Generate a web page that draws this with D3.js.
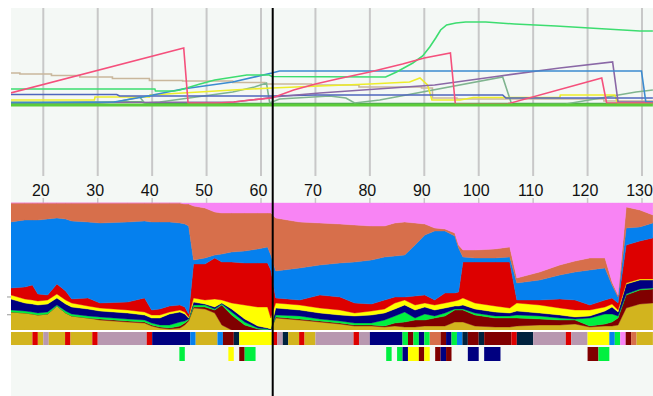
<!DOCTYPE html>
<html>
<head>
<meta charset="utf-8">
<script src="https://cdn.jsdelivr.net/npm/d3@7"></script>
<style>
  body { margin: 0; background: #fff; }
  svg { display: block; }
</style>
</head>
<body>
<svg id="chart" width="653" height="396"></svg>
<script>
// x positions of the grid / tick labels
const xTicks = [20, 30, 40, 50, 60, 70, 80, 90, 100, 110, 120, 130]
const cursorAt = 62.15
const leftTicks = [0.26, 0.12]

// top panel: one array of [x, value] per line
const tanLine = [[14,32],[15.7,31],[21.5,29.5],[26.7,28],[32.7,26.5],[39.5,24.5],[45.6,24],[54.8,22.5],[60.7,21],[69.3,20],[78,18],[89.5,17],[91.5,7],[96,6],[123,4],[132,4]]
const sageLine = [[14,3],[33.5,3],[37.7,8],[38.6,2],[41.4,3],[54.8,13],[58.8,18],[61,22],[61.6,2],[63.4,6],[72.6,9],[75.6,7],[77.2,2],[81.8,5],[104.4,28],[106.1,0],[116,1],[128.9,13],[132,15]]
const darkGreenLine = [[14,2],[30,2],[33,3],[38,3],[39,1.5],[132,1.5]]
const yellowLine = [[14,5],[29.4,5],[29.5,8],[39.5,8],[39.6,10],[45.6,12],[54.8,15],[62,17],[70.8,19],[80,21],[87.3,23],[89.2,27],[90.6,20],[91.4,5],[96.6,5],[99,7.5],[114.9,7.5],[115,10],[125,10],[125.5,2],[132,2]]
const slateLine = [[14,10.5],[33.5,10.5],[34,9],[62,9],[70,10],[104.4,10],[105,7],[132,7]]
const purpleLine = [[14,2],[55,3],[60,6],[62.2,8],[70.8,12],[91.9,20],[103.9,29],[114.9,37],[124.6,43],[125.6,3],[132,3]]
const steelLine = [[14,2],[33,3],[38.3,8],[45.6,16],[54.8,23],[62,32],[63.4,34],[129.9,34],[130.7,3],[132,3]]
const greenLine = [[14,16],[40.5,16],[40.6,14],[44,14],[45.1,15],[48.8,21],[51.5,25],[57.4,30],[61.5,30],[62,28.5],[71,28.3],[82.9,28],[84.9,33],[87.9,42],[89.7,49],[91,58],[92.1,67],[93,75],[94.1,80],[95.8,82],[97.6,83],[101.3,83],[106.6,81],[114.2,79],[123.4,76],[129.6,74],[132,74]]
const pinkLine = [[14,12],[45.8,57],[46.6,2],[52,2],[55,3],[58,5],[62,7],[66,15],[70,21],[74,26],[80,33],[86,41],[90,47],[94.8,52],[95.7,1],[105.2,1],[122.6,27],[123.5,2],[132,2]]
const baseLine = [[14,0],[132,0]]

// lower panel: stacked shares, bottom layer first
const layerKeys = ["olive", "maroon", "green", "navy", "yellow", "red", "blue", "terra", "pink"]
const stackX = [14,16.6,18,19,20.8,22.5,24.1,25.2,28.2,30.4,35.5,38.6,39.9,41.4,43.2,45.1,46,46.7,47.6,49.7,51.5,52.8,54.6,57,59.4,61.2,61.8,62.7,67.1,70.8,74.5,77.2,80.3,82.7,84.6,86.4,88.3,90.1,91.9,93.8,95.6,96.3,97.1,99.3,103,105.7,107,111.2,114.9,117.7,120.4,123.2,124.5,125.6,127.1,129.6,132]
const stackRows = [
  [18,0,2,11,4,7,66,19,0],
  [17,0,2,8,4,12,67,17,0],
  [16,0,2,8,4,15,65,17,0],
  [15,0,2,8,4,7,74,17,0],
  [16,0,2,8,4,5,76,16,0],
  [24,0,1,7,4,10,66,15,0],
  [17,0,2,7,4,9,72,16,0],
  [14,0,2,7,4,4,78,18,0],
  [12,0,2,7,3,8,76,19,0],
  [10,1,2,6,3,5,80,20,0],
  [8,1,2,6,3,8,80,19,0],
  [7,1,2,5,3,14,77,18,0],
  [4,1,2,5,3,5,88,19,0],
  [2,1,2,7,3,6,87,19,0],
  [1,1,3,11,2,6,84,19,0],
  [2,2,4,10,2,5,82,20,0],
  [5,2,2,7,2,5,83,20,1],
  [9,1,1,1,1,3,88,22,1],
  [22,1,2,3,4,34,4,54,3],
  [21,2,2,1,4,36,6,50,5],
  [17,3,1,2,8,41,3,43,9],
  [5,20,1,1,3,38,8,41,10],
  [0,15,3,3,6,41,10,39,10],
  [0,5,3,3,14,42,12,38,10],
  [0,1,1,2,19,44,14,36,10],
  [0,0,1,1,21,44,16,34,10],
  [0,0,0,1,11,48,15,42,10],
  [12,1,2,7,5,5,27,53,15],
  [10,1,3,6,5,5,32,46,19],
  [8,1,2,6,5,13,30,42,20],
  [6,1,2,6,5,13,34,39,21],
  [4,1,2,7,3,10,41,37,22],
  [4,1,2,8,4,7,44,34,23],
  [3,1,6,7,4,9,43,31,23],
  [4,3,7,7,6,6,41,33,20],
  [3,5,10,7,5,3,42,33,19],
  [3,7,2,8,5,9,51,22,20],
  [4,6,6,7,4,8,60,11,21],
  [4,8,2,6,5,5,69,3,25],
  [4,10,3,5,5,10,62,2,26],
  [8,12,1,3,5,8,57,3,30],
  [8,12,1,3,6,8,44,3,42],
  [8,12,1,4,7,36,5,7,47],
  [4,11,2,4,6,41,4,8,47],
  [3,9,2,4,6,44,4,9,46],
  [3,9,2,3,5,46,5,10,44],
  [4,8,3,4,8,3,17,5,75],
  [5,6,3,3,8,5,20,8,69],
  [5,5,2,3,7,9,24,10,62],
  [6,4,1,2,7,10,28,11,58],
  [3,1,8,2,6,5,35,12,55],
  [4,2,10,3,4,7,32,10,55],
  [4,4,8,7,3,6,13,3,79],
  [5,7,2,4,2,7,6,2,92],
  [22,13,1,10,1,38,17,21,4],
  [26,14,1,9,1,38,14,17,7],
  [27,14,1,8,1,41,15,8,12]
]

// state strips: [from, to, state]
const stateRow1 = [[14,18,"olive"],[18,19,"red"],[19,20,"olive"],[20,21,"mauve"],[21,24,"olive"],[24,25,"red"],[25,29,"olive"],[29,30,"red"],[30,39,"mauve"],[39,40,"red"],[40,47,"navy"],[47,48,"blue"],[48,52,"olive"],[52,53,"blue"],[53,55,"maroon"],[55,56,"ink"],[56,62,"yellow"],[62,63,"red"],[63,64,"mauve"],[64,65,"ink"],[65,67,"olive"],[67,68,"red"],[68,70,"olive"],[70,77,"mauve"],[77,78,"red"],[78,80,"mauve"],[80,86,"navy"],[86,87,"green"],[87,88,"maroon"],[88,89,"green"],[89,90,"navy"],[90,91,"green"],[91,93,"terra"],[93,94,"maroon"],[94,95,"navy"],[95,96,"green"],[96,97,"blue"],[97,98,"ink"],[98,100,"maroon"],[100,101,"ink"],[101,106,"maroon"],[106,107,"red"],[107,110,"ink"],[110,116,"mauve"],[116,117,"red"],[117,120,"mauve"],[120,124,"yellow"],[124,125,"blue"],[125,126,"green"],[126,127,"pink"],[127,128,"maroon"],[128,129,"terra"],[129,132,"olive"]]
const stateRow2 = [[45,46,"green"],[54,55,"yellow"],[56,57,"maroon"],[57,59,"green"],[83,84,"green"],[85,86,"green"],[86,87,"navy"],[87,89,"yellow"],[89,90,"maroon"],[90,91,"yellow"],[92,93,"maroon"],[93,94,"navy"],[94,95,"maroon"],[98,100,"navy"],[101,104,"navy"],[120,122,"maroon"],[122,124,"green"]]

const colors = {
  olive: "#d2b41e", maroon: "#800000", green: "#00f040", navy: "#000080",
  yellow: "#ffff00", red: "#dd0000", blue: "#0580ee", terra: "#d76f4b",
  pink: "#f884f4", mauve: "#b898b0", ink: "#00223e"
}

const x = d3.scaleLinear().domain([20, 130]).range([43.3, 642])
const yTop = d3.scaleLinear().domain([0, 97]).range([105, 8])
const yStack = d3.scaleLinear().domain([0, 1]).range([330, 203])

const svg = d3.select("#chart")

svg.append("defs").append("clipPath").attr("id", "plot")
  .append("rect").attr("x", 11).attr("y", 8).attr("width", 642).attr("height", 388)

svg.append("rect")
  .attr("x", 11).attr("y", 8).attr("width", 642).attr("height", 388)
  .attr("fill", "#f4f8f5")

const plot = svg.append("g").attr("clip-path", "url(#plot)")

// grid lines in the top panel
plot.selectAll("line.grid")
  .data(xTicks)
  .join("line")
  .attr("class", "grid")
  .attr("x1", d => x(d)).attr("x2", d => x(d))
  .attr("y1", 8).attr("y2", 176)
  .attr("stroke", "#c8c8c8")
  .attr("stroke-width", 2)

// small ticks above the stacked panel
plot.selectAll("line.tick")
  .data(xTicks)
  .join("line")
  .attr("class", "tick")
  .attr("x1", d => x(d)).attr("x2", d => x(d))
  .attr("y1", 198).attr("y2", 203)
  .attr("stroke", "#c8c8c8")
  .attr("stroke-width", 1.5)

plot.selectAll("text.lbl")
  .data(xTicks)
  .join("text")
  .attr("class", "lbl")
  .attr("x", d => x(d) - 2.5)
  .attr("y", 196)
  .attr("text-anchor", "middle")
  .attr("font-family", "Liberation Sans, Arial, sans-serif")
  .attr("font-size", 16)
  .attr("fill", "#111")
  .text(d => d)

// lines
const topSeries = [
  { pts: tanLine, color: "#c9b79c", step: true },
  { pts: darkGreenLine, color: "#4a9a5a" },
  { pts: sageLine, color: "#7fb48f" },
  { pts: yellowLine, color: "#eded2a" },
  { pts: slateLine, color: "#4f66bd" },
  { pts: purpleLine, color: "#8a68a6" },
  { pts: steelLine, color: "#3b8bd0" },
  { pts: greenLine, color: "#3ddd70" },
  { pts: pinkLine, color: "#f5507c" },
  { pts: baseLine, color: "#5ccc3a", width: 3 }
]

const line = d3.line().x(d => x(d[0])).y(d => yTop(d[1]))
const stepLine = d3.line().x(d => x(d[0])).y(d => yTop(d[1])).curve(d3.curveStepAfter)

plot.selectAll("path.series")
  .data(topSeries)
  .join("path")
  .attr("class", "series")
  .attr("fill", "none")
  .attr("stroke", d => d.color)
  .attr("stroke-width", d => d.width || 1.6)
  .attr("d", d => (d.step ? stepLine : line)(d.pts))

// stacked area
const stackData = stackX.map((v, i) => {
  const row = { v }
  layerKeys.forEach((k, j) => (row[k] = stackRows[i][j]))
  return row
})
const layers = d3.stack().keys(layerKeys).offset(d3.stackOffsetExpand)(stackData)

const area = d3.area()
  .x(d => x(d.data.v))
  .y0(d => yStack(d[0]))
  .y1(d => yStack(d[1]))

plot.selectAll("path.layer")
  .data(layers)
  .join("path")
  .attr("class", "layer")
  .attr("fill", d => colors[d.key])
  .attr("stroke", d => colors[d.key])
  .attr("stroke-width", 0.4)
  .attr("d", area)

// white separator
plot.append("rect")
  .attr("x", 11).attr("y", yStack(0)).attr("width", 642).attr("height", 2)
  .attr("fill", "#fff")

// state strips
plot.selectAll("rect.s1")
  .data(stateRow1)
  .join("rect")
  .attr("class", "s1")
  .attr("x", d => x(d[0]))
  .attr("width", d => x(d[1]) - x(d[0]))
  .attr("y", 332).attr("height", 13)
  .attr("fill", d => colors[d[2]])

plot.selectAll("rect.s2")
  .data(stateRow2)
  .join("rect")
  .attr("class", "s2")
  .attr("x", d => x(d[0]))
  .attr("width", d => x(d[1]) - x(d[0]))
  .attr("y", 347).attr("height", 14)
  .attr("fill", d => colors[d[2]])

// tiny left ticks
svg.selectAll("line.lt")
  .data(leftTicks)
  .join("line")
  .attr("class", "lt")
  .attr("x1", 7).attr("x2", 11)
  .attr("y1", d => yStack(d)).attr("y2", d => yStack(d))
  .attr("stroke", "#999")

// cursor
svg.append("line")
  .attr("x1", x(cursorAt)).attr("x2", x(cursorAt))
  .attr("y1", 8).attr("y2", 396)
  .attr("stroke", "#000")
  .attr("stroke-width", 2)
</script>
</body>
</html>
